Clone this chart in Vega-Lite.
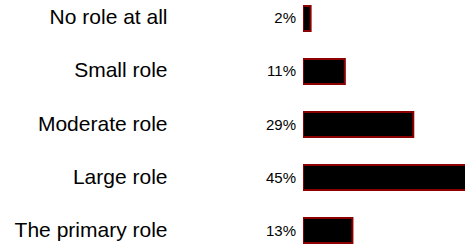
{
  "$schema": "https://vega.github.io/schema/vega-lite/v6.json",
  "width": 162,
  "height": 249,
  "autosize": "none",
  "padding": {"left": 303, "top": 0, "right": 0, "bottom": 0},
  "config": {"view": {"stroke": null}, "font": "Liberation Sans"},
  "data": {"values": [
    {"role": "No role at all", "pct": 0.02},
    {"role": "Small role", "pct": 0.11},
    {"role": "Moderate role", "pct": 0.29},
    {"role": "Large role", "pct": 0.45},
    {"role": "The primary role", "pct": 0.13}
  ]},
  "encoding": {
    "y": {
      "field": "role", "type": "nominal", "sort": null,
      "scale": {"paddingInner": 0.53, "paddingOuter": 0.113},
      "axis": {"title": null, "domain": false, "ticks": false, "labelPadding": 136, "labelFontSize": 21, "labelColor": "black", "labelFont": "Liberation Sans", "labelLimit": 300}
    }
  },
  "layer": [
    {
      "mark": {"type": "bar", "fill": "black", "stroke": "#8b0000", "strokeWidth": 2, "clip": true},
      "encoding": {"x": {"field": "pct", "type": "quantitative", "scale": {"domain": [0, 0.426], "nice": false}, "axis": null}}
    },
    {
      "mark": {"type": "text", "align": "right", "baseline": "middle", "dx": -7, "fontSize": 15, "color": "black"},
      "encoding": {
        "x": {"datum": 0},
        "text": {"field": "pct", "type": "quantitative", "format": ".0%"}
      }
    }
  ]
}
